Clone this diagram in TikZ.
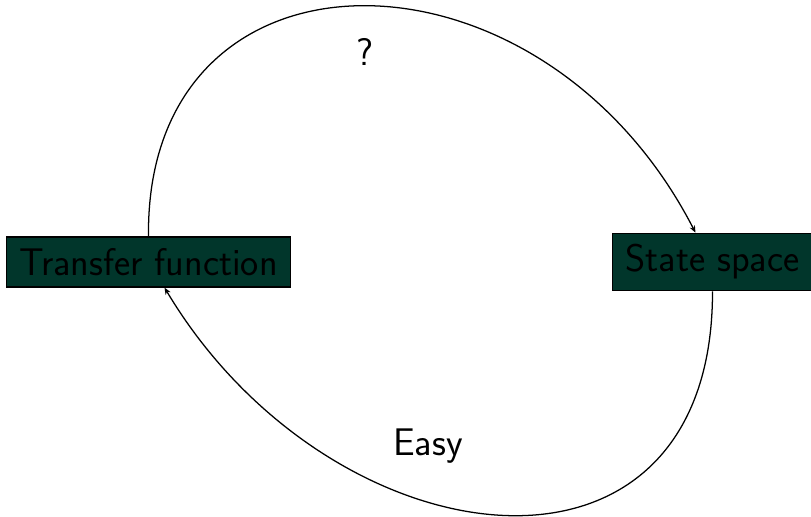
\documentclass[tikz,border=0pt]{standalone}
\usepackage{tikz}
\usetikzlibrary{arrows.meta}
\definecolor{box-green}{HTML}{01362B}

\tikzset{
	block/.style={draw=black,fill=box-green,text=black,inner xsep=9pt,inner ysep=8pt,font=\fontsize{27.4}{32}\selectfont\sffamily},
	lbl/.style={font=\fontsize{27.4}{32}\selectfont\sffamily}
}

\begin{document}
\begin{tikzpicture}[x=0.025cm,y=-0.025cm,line width=0.9pt,>={Stealth[length=5pt,width=4pt]}]
				\useasboundingbox (0,0) rectangle (811,516);
				\node [block] (tf) at (148.5,262) {Transfer function};
				\node [block] (ss) at (712.5,262) {State space};
				\draw [->] (tf.north) .. controls (145,-70) and (540,-70) .. ([xshift=-17*0.025cm]ss.north);
				\draw [->] (ss.south) .. controls (713,615) and (330,565) .. ([xshift=16*0.025cm]tf.south);
				\node [lbl] (q) at (365,52) {?};
				\node [lbl] (easy) at (428,446) {Easy};
		\end{tikzpicture}
\end{document}
